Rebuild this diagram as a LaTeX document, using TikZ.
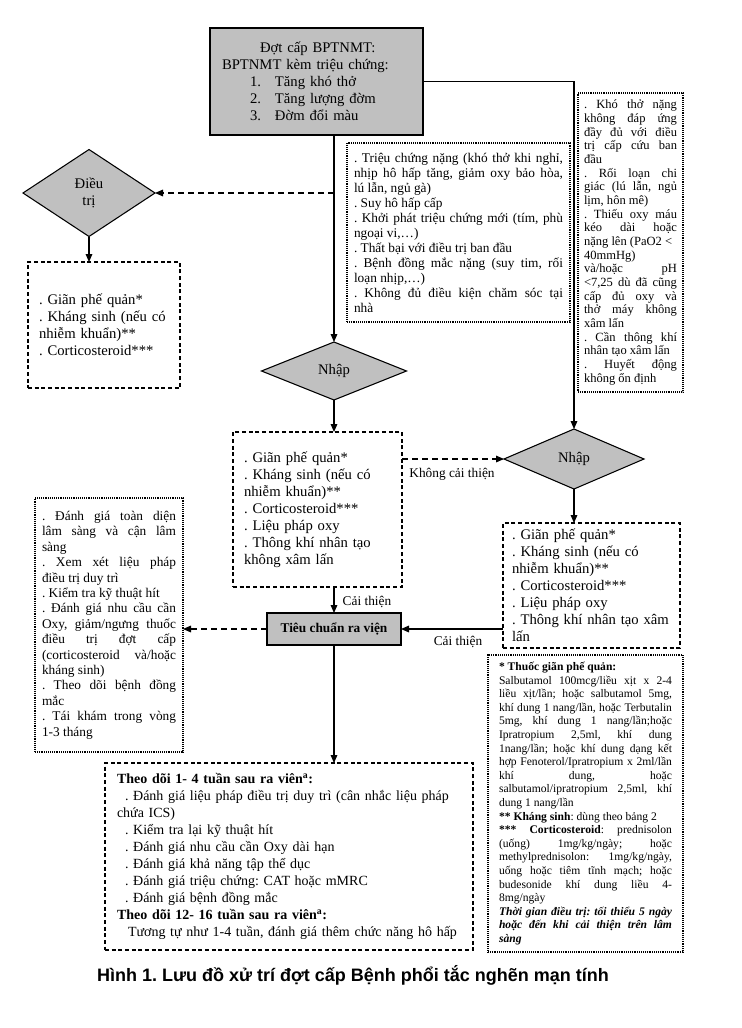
\documentclass[tikz,border=0pt]{standalone}
\usepackage{fontspec}
\setmainfont{Liberation Serif}
\newfontfamily\capfont{Liberation Sans}
\usetikzlibrary{shapes.geometric,arrows.meta}
\definecolor{boxgray}{RGB}{192,192,192}
\newlength\px
\setlength\px{0.75pt}
\setlength{\parindent}{0pt}
\newcommand\fs[2]{\fontsize{#1}{#2}\selectfont}
\begin{document}
\frenchspacing
\begin{tikzpicture}[x=0.75pt,y=-0.75pt,
  every node/.style={inner sep=0pt,outer sep=0pt},
  dashbox/.style={draw,line width=0.8pt,dash pattern=on 3pt off 2pt},
  dotbox/.style={draw,line width=0.8pt,dash pattern=on 0.7pt off 0.7pt},
  graybox/.style={draw,fill=boxgray,line width=1.5pt},
  decision/.style={diamond,draw,fill=boxgray,line width=0.8pt,font=\fs{11}{12.75},align=center},
  arr/.style={line width=0.8pt,-{Triangle[length=6pt,width=5pt]}},
  darr/.style={arr,dash pattern=on 4.5pt off 3pt},
  lbl/.style={font=\fs{10}{12}},
  txt/.style={font=\fs{11}{12.75},align=left},
]
\useasboundingbox (0,0) rectangle (742,1028);

% top box
\node[graybox,txt,minimum width=213\px,minimum height=107\px,text width=189\px] (top) at (316.5,81.5)
 {\hspace*{38\px}Đợt cấp BPTNMT:\\
  BPTNMT kèm triệu chứng:\\
  \hspace*{28\px}\makebox[25\px][l]{1.}Tăng khó thở\\
  \hspace*{28\px}\makebox[25\px][l]{2.}Tăng lượng đờm\\
  \hspace*{28\px}\makebox[25\px][l]{3.}Đờm đổi màu};

% left decision
\node[decision,minimum width=132\px,minimum height=87\px] (ld) at (89,193) {Điều\\trị};
\node[dashbox,txt,minimum width=152\px,minimum height=126\px,text width=130\px] (lbox) at (104,325)
 {. Giãn phế quản*\\. Kháng sinh (nếu có\\nhiễm khuẩn)**\\. Corticosteroid***};

% middle criteria box
\node[dotbox,font=\fs{10}{11.25},align=justify,minimum width=223\px,minimum height=179\px,text width=209\px] (mtext) at (458.5,232.5)
 {. Triệu chứng nặng (khó thở khi nghỉ,\linebreak nhịp hô hấp tăng, giảm oxy bảo hòa,\linebreak lú lẫn, ngủ gà)\par
  . Suy hô hấp cấp\par
  . Khởi phát triệu chứng mới (tím, phù\linebreak ngoại vi,…)\par
  . Thất bại với điều trị ban đầu\par
  . Bệnh đồng mắc nặng (suy tim, rối\linebreak loạn nhịp,…)\par
  . Không đủ điều kiện chăm sóc tại\linebreak nhà};

% right criteria box
\node[dotbox,font=\fs{9.4}{10.25},align=justify,minimum width=105\px,minimum height=299\px,text width=93\px] (rtext) at (630.5,242.5)
 {. Khó thở nặng\linebreak không đáp ứng\linebreak đầy đủ với điều\linebreak trị cấp cứu ban\linebreak đầu\par
  . Rối loạn chi\linebreak giác (lú lẫn, ngủ\linebreak lịm, hôn mê)\par
  . Thiếu oxy máu\linebreak kéo dài hoặc\linebreak nặng lên (PaO2 <\\ 40mmHg)\\ và/hoặc\hfill pH\\ <7,25 dù đã cũng\linebreak cấp đủ oxy và\linebreak thở máy không\linebreak xâm lấn\par
  . Cần thông khí\linebreak nhân tạo xâm lấn\par
  . Huyết động\linebreak không ổn định};

% middle decision + box
\node[decision,minimum width=145\px,minimum height=58\px] (md) at (334,371) {Nhập};
\node[dashbox,txt,minimum width=169\px,minimum height=155\px,text width=147\px] (mbox) at (317.5,509.5)
 {. Giãn phế quản*\\. Kháng sinh (nếu có\\nhiễm khuẩn)**\\. Corticosteroid***\\. Liệu pháp oxy\\. Thông khí nhân tạo\\không xâm lấn};

% right decision + box
\node[decision,minimum width=140\px,minimum height=60\px] (rd) at (574,459) {Nhập};
\node[dashbox,txt,minimum width=177\px,minimum height=125\px,text width=159\px] (rbox) at (591.5,585.5)
 {. Giãn phế quản*\\. Kháng sinh (nếu có\\nhiễm khuẩn)**\\. Corticosteroid***\\. Liệu pháp oxy\\. Thông khí nhân tạo xâm\\lấn};

% discharge criteria
\node[draw,fill=boxgray,line width=1.2pt,font=\fs{10}{12}\bfseries,minimum width=134\px,minimum height=32\px] (tc) at (334,629) {Tiêu chuẩn ra viện};

% left bottom box
\node[dotbox,font=\fs{10}{11.55},align=justify,minimum width=148\px,minimum height=254\px,text width=134\px] (lbb) at (109,625)
 {. Đánh giá toàn diện\linebreak lâm sàng và cận lâm\linebreak sàng\par
  . Xem xét liệu pháp\linebreak điều trị duy trì\par
  . Kiểm tra kỹ thuật hít\par
  . Đánh giá nhu cầu cần\linebreak Oxy, giảm/ngưng thuốc\linebreak điều trị đợt cấp\linebreak (corticosteroid và/hoặc\linebreak kháng sinh)\par
  . Theo dõi bệnh đồng\linebreak mắc\par
  . Tái khám trong vòng\linebreak 1-3 tháng};

% bottom follow-up box
\node[dashbox,font=\fs{10.5}{12.75},align=left,minimum width=368\px,minimum height=187\px,text width=356\px] (bbox) at (289,856.5)
 {\hspace*{6\px}\textbf{Theo dõi 1- 4 tuần sau ra viên\textsuperscript{a}:}\\
  \hspace*{14\px}. Đánh giá liệu pháp điều trị duy trì (cân nhắc liệu pháp\\
  \hspace*{6\px}chứa ICS)\\
  \hspace*{14\px}. Kiểm tra lại kỹ thuật hít\\
  \hspace*{14\px}. Đánh giá nhu cầu cần Oxy dài hạn\\
  \hspace*{14\px}. Đánh giá khả năng tập thể dục\\
  \hspace*{14\px}. Đánh giá triệu chứng: CAT hoặc mMRC\\
  \hspace*{14\px}. Đánh giá bệnh đồng mắc\\
  \hspace*{6\px}\textbf{Theo dõi 12- 16 tuần sau ra viên\textsuperscript{a}:}\\
  \hspace*{17\px}Tương tự như 1-4 tuần, đánh giá thêm chức năng hô hấp};

% footnote box
\node[dotbox,font=\fs{8.7}{10.2},align=justify,minimum width=195\px,minimum height=297\px,text width=173\px] (fbox) at (585.5,803.5)
 {\textbf{* Thuốc giãn phế quản:}\par
  Salbutamol 100mcg/liều xịt x 2-4\linebreak liều xịt/lần; hoặc salbutamol 5mg,\linebreak khí dung 1 nang/lần, hoặc Terbutalin\linebreak 5mg, khí dung 1 nang/lần;hoặc\linebreak Ipratropium 2,5ml, khí dung\linebreak 1nang/lần; hoặc khí dung dạng kết\linebreak hợp Fenoterol/Ipratropium x 2ml/lần\linebreak khí dung, hoặc\linebreak salbutamol/ipratropium 2,5ml, khí\linebreak dung 1 nang/lần\par
  \textbf{** Kháng sinh}: dùng theo bảng 2\par
  \textbf{*** Corticosteroid}: prednisolon\linebreak (uống) 1mg/kg/ngày; hoặc\linebreak methylprednisolon: 1mg/kg/ngày,\linebreak uống hoặc tiêm tĩnh mạch; hoặc\linebreak budesonide khí dung liều 4-\linebreak 8mg/ngày\par
  \textbf{\textit{Thời gian điều trị: tối thiểu 5 ngày\linebreak hoặc đến khi cải thiện trên lâm\linebreak sàng}}};

% caption
\node[font=\capfont\bfseries\fs{13.5}{16}] (cap) at (353,975) {Hình 1. Lưu đồ xử trí đợt cấp Bệnh phổi tắc nghẽn mạn tính};

% connectors
\draw[arr] (top.east) -| (rd.north);
\draw[arr] (md.north |- top.south) -- (md.north);
\coordinate (jl) at (md.north |- ld.east);
\draw[darr] (jl) -- (ld.east);
\draw[arr] (ld.south) -- (ld.south |- lbox.north);
\draw[arr] (md.south) -- (md.south |- mbox.north);
\draw[darr] (rd.west -| mbox.east) -- (rd.west);
\node[lbl] (nci) at (452,474) {Không cải thiện};
\draw[arr] (rd.south) -- (rd.south |- rbox.north);
\draw[arr] (md.south |- mbox.south) -- (md.south |- tc.north);
\node[lbl] (ct1) at (367,602) {Cải thiện};
\draw[arr] (tc.east -| rbox.west) -- (tc.east);
\node[lbl] (ct2) at (458,642) {Cải thiện};
\draw[darr] (tc.west) -- (tc.west -| lbb.east);
\draw[arr] (tc.south) -- (tc.south |- bbox.north);
\end{tikzpicture}
\end{document}
